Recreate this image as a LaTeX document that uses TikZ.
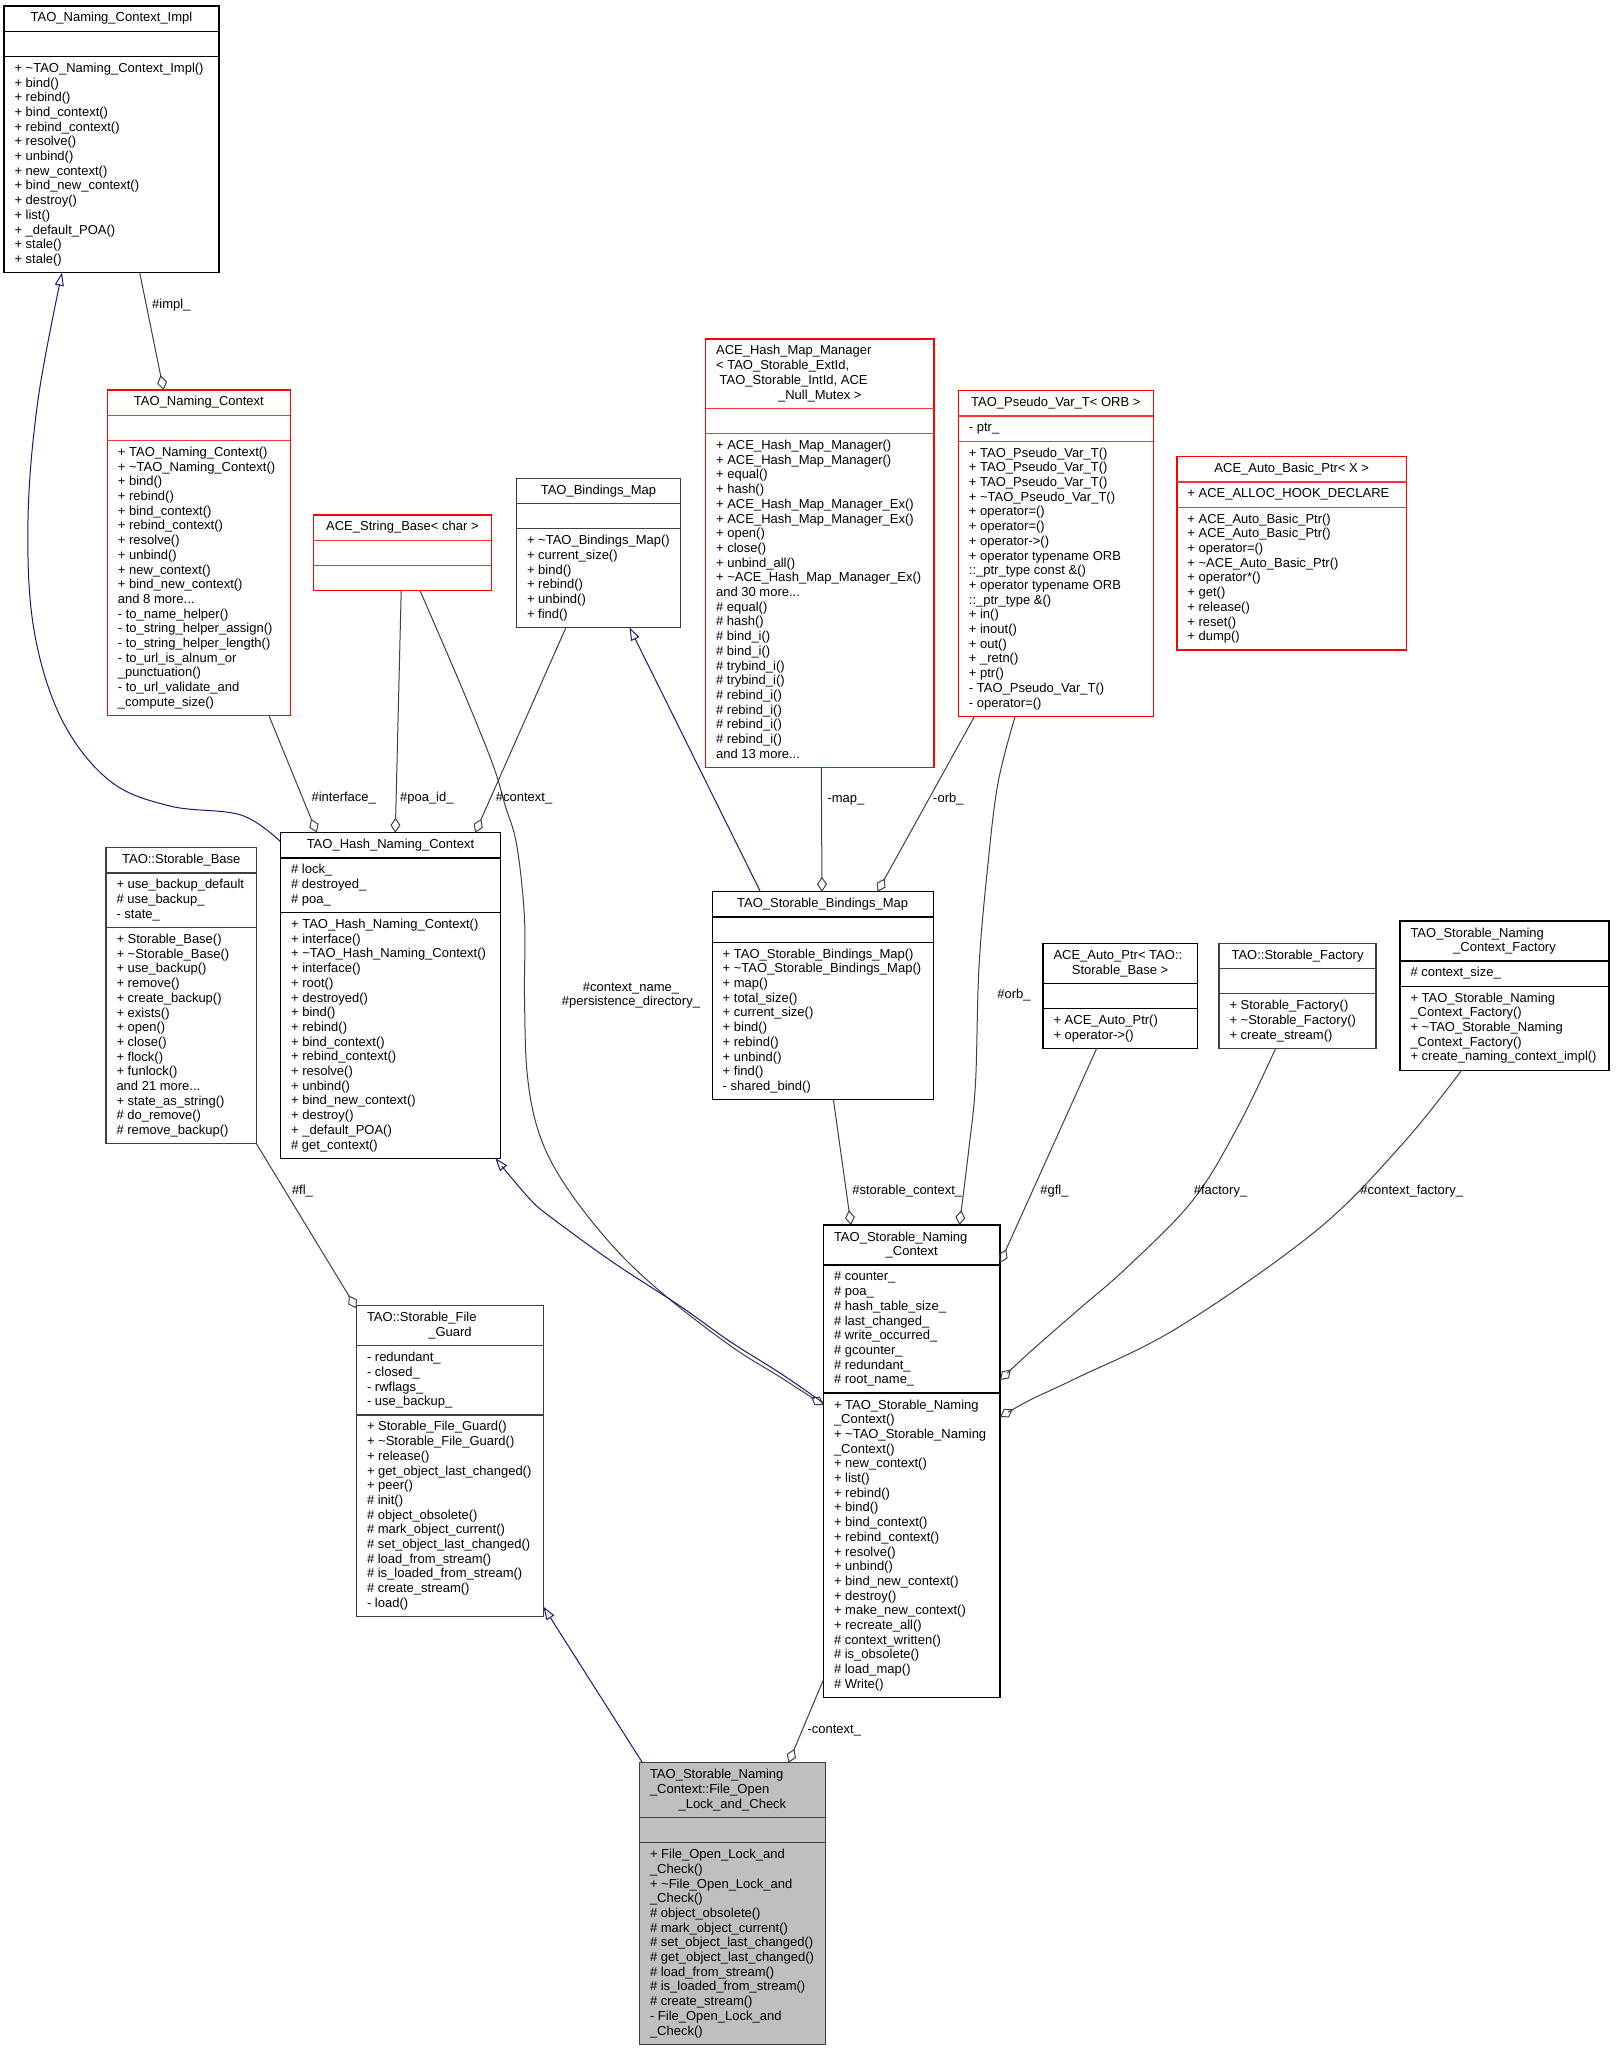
\documentclass[tikz,border=0pt]{standalone}
\usepackage{fontspec}
\setmainfont{Liberation Sans}
\usetikzlibrary{arrows.meta,calc}
\definecolor{edgegray}{HTML}{404040}
\definecolor{inhblue}{HTML}{191970}
\definecolor{focusfill}{HTML}{BFBFBF}
\definecolor{boxred}{HTML}{FF0000}

\newcommand\umlbox[8]{%
  \pgfmathsetmacro\umlhA{#5*14.7+10.5}%
  \pgfmathsetmacro\umlhB{#6*14.7+10.5}%
  \pgfmathsetmacro\umlhC{#7*14.7+10.5}%
  \pgfmathsetmacro\umlhT{\umlhA+\umlhB+\umlhC}%
  \pgfmathsetmacro\umlhAB{\umlhA+\umlhB}%
  \node[#8, minimum width=#4pt, minimum height=\umlhT pt, anchor=north west] (#1) at (#2,#3) {};
  \draw[#8sep] ($(#1.north west)+(0,\umlhA)$) -- ($(#1.north east)+(0,\umlhA)$);
  \draw[#8sep] ($(#1.north west)+(0,\umlhAB)$) -- ($(#1.north east)+(0,\umlhAB)$);
}
\newcommand\umltl[4]{\node[txt, anchor=north west] (#1) at ($(#2.north west)+(10.5,#3+5.7)$) {\strut #4};}
\newcommand\umltc[4]{\node[txt, anchor=north] (#1) at ($(#2.north)+(0,#3+5.7)$) {\strut #4};}

\begin{document}
\begin{tikzpicture}[x=1pt,y=-1pt,
  txt/.style={font=\fontsize{13}{14.7}\selectfont, align=left, inner sep=0, outer sep=0, text=black},
  blkbox/.style={draw=black, fill=white, line width=1.2pt, inner sep=0, outer sep=0},
  blkboxsep/.style={draw=black, line width=1.2pt},
  grybox/.style={draw=edgegray, fill=white, line width=1.2pt, inner sep=0, outer sep=0},
  gryboxsep/.style={draw=edgegray, line width=1.2pt},
  redbox/.style={draw=boxred, fill=white, line width=1.2pt, inner sep=0, outer sep=0},
  redboxsep/.style={draw=boxred!80, line width=1.2pt},
  focbox/.style={draw=edgegray, fill=focusfill, line width=1.2pt, inner sep=0, outer sep=0},
  focboxsep/.style={draw=edgegray, line width=1.2pt},
  agg/.style={draw=edgegray, line width=1pt, -{Diamond[open, length=15pt, width=10pt, line width=1pt]}},
  inh/.style={draw=inhblue, line width=1pt, -{Triangle[open, length=13pt, width=9pt, line width=1pt]}},
  lbl/.style={font=\fontsize{13}{14.7}\selectfont, inner sep=0, outer sep=0, anchor=base west},
  lblc/.style={font=\fontsize{13}{14.7}\selectfont, inner sep=0, outer sep=0, anchor=north, align=center}]

\fill[white] (0,0) rectangle (1616,2051);
\useasboundingbox (0,0) rectangle (1616,2051);

% ---------------- boxes ----------------
\umlbox{impl}{4}{6}{215}{1}{1}{14}{blkbox}
\umltc{impl-t}{impl}{0}{TAO\_Naming\_Context\_Impl}
\umltl{impl-m}{impl}{50.4}{+ \textasciitilde TAO\_Naming\_Context\_Impl()\\+ bind()\\+ rebind()\\+ bind\_context()\\+ rebind\_context()\\+ resolve()\\+ unbind()\\+ new\_context()\\+ bind\_new\_context()\\+ destroy()\\+ list()\\+ \_default\_POA()\\+ stale()\\+ stale()}

\umlbox{nctx}{107.4}{390}{183}{1}{1}{18}{redbox}
\umltc{nctx-t}{nctx}{0}{TAO\_Naming\_Context}
\umltl{nctx-m}{nctx}{50.4}{+ TAO\_Naming\_Context()\\+ \textasciitilde TAO\_Naming\_Context()\\+ bind()\\+ rebind()\\+ bind\_context()\\+ rebind\_context()\\+ resolve()\\+ unbind()\\+ new\_context()\\+ bind\_new\_context()\\and 8 more...\\- to\_name\_helper()\\- to\_string\_helper\_assign()\\- to\_string\_helper\_length()\\- to\_url\_is\_alnum\_or\\\_punctuation()\\- to\_url\_validate\_and\\\_compute\_size()}

\umlbox{strbase}{313.4}{515}{178}{1}{1}{1}{redbox}
\umltc{strbase-t}{strbase}{0}{ACE\_String\_Base< char >}

\umlbox{bmap}{516.5}{478.3}{164}{1}{1}{6}{grybox}
\umltc{bmap-t}{bmap}{0}{TAO\_Bindings\_Map}
\umltl{bmap-m}{bmap}{50.4}{+ \textasciitilde TAO\_Bindings\_Map()\\+ current\_size()\\+ bind()\\+ rebind()\\+ unbind()\\+ find()}

\umlbox{hmm}{705.6}{339}{228.3}{4}{1}{22}{redbox}
\umltl{hmm-t1}{hmm}{0}{ACE\_Hash\_Map\_Manager\\< TAO\_Storable\_ExtId,\\\hspace*{3.6pt}TAO\_Storable\_IntId, ACE}
\umltc{hmm-t2}{hmm}{44.1}{\_Null\_Mutex >}
\umltl{hmm-m}{hmm}{94.5}{+ ACE\_Hash\_Map\_Manager()\\+ ACE\_Hash\_Map\_Manager()\\+ equal()\\+ hash()\\+ ACE\_Hash\_Map\_Manager\_Ex()\\+ ACE\_Hash\_Map\_Manager\_Ex()\\+ open()\\+ close()\\+ unbind\_all()\\+ \textasciitilde ACE\_Hash\_Map\_Manager\_Ex()\\and 30 more...\\\# equal()\\\# hash()\\\# bind\_i()\\\# bind\_i()\\\# trybind\_i()\\\# trybind\_i()\\\# rebind\_i()\\\# rebind\_i()\\\# rebind\_i()\\\# rebind\_i()\\and 13 more...}

\umlbox{pvar}{958.4}{390.7}{194.7}{1}{1}{18}{redbox}
\umltc{pvar-t}{pvar}{0}{TAO\_Pseudo\_Var\_T< ORB >}
\umltl{pvar-a}{pvar}{25.2}{- ptr\_}
\umltl{pvar-m}{pvar}{50.4}{+ TAO\_Pseudo\_Var\_T()\\+ TAO\_Pseudo\_Var\_T()\\+ TAO\_Pseudo\_Var\_T()\\+ \textasciitilde TAO\_Pseudo\_Var\_T()\\+ operator=()\\+ operator=()\\+ operator->()\\+ operator typename ORB\\::\_ptr\_type const \&()\\+ operator typename ORB\\::\_ptr\_type \&()\\+ in()\\+ inout()\\+ out()\\+ \_retn()\\+ ptr()\\- TAO\_Pseudo\_Var\_T()\\- operator=()}

\umlbox{abp}{1176.9}{456.7}{229.7}{1}{1}{9}{redbox}
\umltc{abp-t}{abp}{0}{ACE\_Auto\_Basic\_Ptr< X >}
\umltl{abp-a}{abp}{25.2}{+ ACE\_ALLOC\_HOOK\_DECLARE}
\umltl{abp-m}{abp}{50.4}{+ ACE\_Auto\_Basic\_Ptr()\\+ ACE\_Auto\_Basic\_Ptr()\\+ operator=()\\+ \textasciitilde ACE\_Auto\_Basic\_Ptr()\\+ operator*()\\+ get()\\+ release()\\+ reset()\\+ dump()}

\umlbox{hash}{280.6}{832.7}{219.7}{1}{3}{16}{blkbox}
\umltc{hash-t}{hash}{0}{TAO\_Hash\_Naming\_Context}
\umltl{hash-a}{hash}{25.2}{\# lock\_\\\# destroyed\_\\\# poa\_}
\umltl{hash-m}{hash}{79.8}{+ TAO\_Hash\_Naming\_Context()\\+ interface()\\+ \textasciitilde TAO\_Hash\_Naming\_Context()\\+ interface()\\+ root()\\+ destroyed()\\+ bind()\\+ rebind()\\+ bind\_context()\\+ rebind\_context()\\+ resolve()\\+ unbind()\\+ bind\_new\_context()\\+ destroy()\\+ \_default\_POA()\\\# get\_context()}

\umlbox{sbase}{106}{847.7}{150.5}{1}{3}{14}{grybox}
\umltc{sbase-t}{sbase}{0}{TAO::Storable\_Base}
\umltl{sbase-a}{sbase}{25.2}{+ use\_backup\_default\\\# use\_backup\_\\- state\_}
\umltl{sbase-m}{sbase}{79.8}{+ Storable\_Base()\\+ \textasciitilde Storable\_Base()\\+ use\_backup()\\+ remove()\\+ create\_backup()\\+ exists()\\+ open()\\+ close()\\+ flock()\\+ funlock()\\and 21 more...\\+ state\_as\_string()\\\# do\_remove()\\\# remove\_backup()}

\umlbox{sbm}{712.2}{891.7}{221}{1}{1}{10}{blkbox}
\umltc{sbm-t}{sbm}{0}{TAO\_Storable\_Bindings\_Map}
\umltl{sbm-m}{sbm}{50.4}{+ TAO\_Storable\_Bindings\_Map()\\+ \textasciitilde TAO\_Storable\_Bindings\_Map()\\+ map()\\+ total\_size()\\+ current\_size()\\+ bind()\\+ rebind()\\+ unbind()\\+ find()\\- shared\_bind()}

\umlbox{aptr}{1043}{943.3}{154.2}{2}{1}{2}{blkbox}
\umltl{aptr-t1}{aptr}{0}{ACE\_Auto\_Ptr< TAO::}
\umltc{aptr-t2}{aptr}{14.7}{Storable\_Base >}
\umltl{aptr-m}{aptr}{65.1}{+ ACE\_Auto\_Ptr()\\+ operator->()}

\umlbox{sfac}{1219}{943.3}{157}{1}{1}{3}{grybox}
\umltc{sfac-t}{sfac}{0}{TAO::Storable\_Factory}
\umltl{sfac-m}{sfac}{50.4}{+ Storable\_Factory()\\+ \textasciitilde Storable\_Factory()\\+ create\_stream()}

\umlbox{ncf}{1400}{921}{209}{2}{1}{5}{blkbox}
\umltl{ncf-t1}{ncf}{0}{TAO\_Storable\_Naming}
\umltc{ncf-t2}{ncf}{14.7}{\_Context\_Factory}
\umltl{ncf-a}{ncf}{39.9}{\# context\_size\_}
\umltl{ncf-m}{ncf}{65.1}{+ TAO\_Storable\_Naming\\\_Context\_Factory()\\+ \textasciitilde TAO\_Storable\_Naming\\\_Context\_Factory()\\+ create\_naming\_context\_impl()}

\umlbox{snc}{823.5}{1225}{176.5}{2}{8}{20}{blkbox}
\umltl{snc-t1}{snc}{0}{TAO\_Storable\_Naming}
\umltc{snc-t2}{snc}{14.7}{\_Context}
\umltl{snc-a}{snc}{39.9}{\# counter\_\\\# poa\_\\\# hash\_table\_size\_\\\# last\_changed\_\\\# write\_occurred\_\\\# gcounter\_\\\# redundant\_\\\# root\_name\_}
\umltl{snc-m}{snc}{168}{+ TAO\_Storable\_Naming\\\_Context()\\+ \textasciitilde TAO\_Storable\_Naming\\\_Context()\\+ new\_context()\\+ list()\\+ rebind()\\+ bind()\\+ bind\_context()\\+ rebind\_context()\\+ resolve()\\+ unbind()\\+ bind\_new\_context()\\+ destroy()\\+ make\_new\_context()\\+ recreate\_all()\\\# context\_written()\\\# is\_obsolete()\\\# load\_map()\\\# Write()}

\umlbox{fguard}{356.5}{1305.7}{187}{2}{4}{13}{grybox}
\umltl{fguard-t1}{fguard}{0}{TAO::Storable\_File}
\umltc{fguard-t2}{fguard}{14.7}{\_Guard}
\umltl{fguard-a}{fguard}{39.9}{- redundant\_\\- closed\_\\- rwflags\_\\- use\_backup\_}
\umltl{fguard-m}{fguard}{109.2}{+ Storable\_File\_Guard()\\+ \textasciitilde Storable\_File\_Guard()\\+ release()\\+ get\_object\_last\_changed()\\+ peer()\\\# init()\\\# object\_obsolete()\\\# mark\_object\_current()\\\# set\_object\_last\_changed()\\\# load\_from\_stream()\\\# is\_loaded\_from\_stream()\\\# create\_stream()\\- load()}

\umlbox{fopen}{639.5}{1762.8}{185.8}{3}{1}{13}{focbox}
\umltl{fopen-t1}{fopen}{0}{TAO\_Storable\_Naming\\\_Context::File\_Open}
\umltc{fopen-t2}{fopen}{29.4}{\_Lock\_and\_Check}
\umltl{fopen-m}{fopen}{79.8}{+ File\_Open\_Lock\_and\\\_Check()\\+ \textasciitilde File\_Open\_Lock\_and\\\_Check()\\\# object\_obsolete()\\\# mark\_object\_current()\\\# set\_object\_last\_changed()\\\# get\_object\_last\_changed()\\\# load\_from\_stream()\\\# is\_loaded\_from\_stream()\\\# create\_stream()\\- File\_Open\_Lock\_and\\\_Check()}

% ---------------- connector end points ----------------
\coordinate (e1s) at ($(hash.north west)+(0,9)$);
\coordinate (e1t) at ($(impl.south west)+(58,0)$);
\coordinate (e2s) at ($(impl.south west)+(135.7,0)$);
\coordinate (e2t) at ($(nctx.north west)+(56.2,0)$);
\coordinate (e3s) at ($(nctx.south west)+(161.5,0)$);
\coordinate (e3t) at ($(hash.north west)+(36.2,0)$);
\coordinate (e4s) at ($(strbase.south west)+(87.8,0)$);
\coordinate (e4t) at ($(hash.north west)+(114.7,0)$);
\coordinate (e5s) at ($(bmap.south west)+(49.5,0)$);
\coordinate (e5t) at ($(hash.north west)+(194.6,0)$);
\coordinate (e6s) at ($(strbase.south west)+(106.6,0)$);
\coordinate (e6t) at ($(snc.north west)+(0,180)$);
\coordinate (e7s) at ($(sbm.north west)+(48.2,0)$);
\coordinate (e7t) at ($(bmap.south west)+(113,0)$);
\coordinate (e8s) at ($(hmm.south west)+(115.7,0)$);
\coordinate (e8t) at ($(sbm.north west)+(109.8,0)$);
\coordinate (e9s) at ($(pvar.south west)+(16.2,0)$);
\coordinate (e9t) at ($(sbm.north west)+(165.3,0)$);
\coordinate (e10s) at ($(pvar.south west)+(56.8,0)$);
\coordinate (e10t) at ($(snc.north west)+(135.9,0)$);
\coordinate (e11s) at ($(sbm.south west)+(121.2,0)$);
\coordinate (e11t) at ($(snc.north west)+(27.5,0)$);
\coordinate (e12s) at ($(aptr.south west)+(53.7,0)$);
\coordinate (e12t) at ($(snc.north east)+(0,38)$);
\coordinate (e13s) at ($(sfac.south west)+(56.7,0)$);
\coordinate (e13t) at ($(snc.north east)+(0,155)$);
\coordinate (e14s) at ($(ncf.south west)+(61.7,0)$);
\coordinate (e14t) at ($(snc.north east)+(0,192)$);
\coordinate (e15s) at ($(snc.north west)+(0,178)$);
\coordinate (e15t) at ($(hash.south west)+(214.8,0)$);
\coordinate (e16s) at (sbase.south east);
\coordinate (e16t) at ($(fguard.north west)+(0,2.6)$);
\coordinate (e17s) at ($(fopen.north west)+(3,0)$);
\coordinate (e17t) at ($(fguard.south east)+(0,-9.7)$);
\coordinate (e18s) at ($(snc.south west)+(0,-18)$);
\coordinate (e18t) at ($(fopen.north west)+(149,0)$);

% ---------------- connectors ----------------
\draw[inh] plot[smooth, tension=0.6] coordinates {(e1s) (241,815) (170,806) (110,781) (62,720) (34,630) (28,520) (38,400) (e1t)};
\draw[agg] (e2s) -- (e2t);
\draw[agg] (e3s) -- (e3t);
\draw[agg] (e4s) -- (e4t);
\draw[agg] (e5s) -- (e5t);
\draw[agg] plot[smooth, tension=0.6] coordinates {(e6s) (461.4,686.7) (492.4,763.3) (505,805) (516.7,845) (524.5,918.6) (524.5,997.6) (527.5,1076.7) (540,1136) (566.7,1187.4) (613.3,1246.6) (663.3,1294) (730,1345.5) (780,1377) (e6t)};
\draw[inh] (e7s) -- (e7t);
\draw[agg] (e8s) -- (e8t);
\draw[agg] (e9s) -- (e9t);
\draw[agg] plot[smooth, tension=0.6] coordinates {(e10s) (998,783) (987.7,866.7) (979,966.7) (975.5,1083) (968.7,1150) (e10t)};
\draw[agg] (e11s) -- (e11t);
\draw[agg] (e12s) -- (e12t);
\draw[agg] plot[smooth, tension=0.6] coordinates {(e13s) (1237.8,1126.7) (1193,1200) (1127.7,1266.7) (1076,1311.7) (1030,1352) (e13t)};
\draw[agg] plot[smooth, tension=0.6] coordinates {(e14s) (1403,1143.3) (1317,1230) (1179.3,1326.7) (1076,1378.3) (1030,1400) (e14t)};
\draw[inh] plot[smooth, tension=0.6] coordinates {(e15s) (780,1373) (730,1341.5) (680,1306) (613.3,1262.5) (553.3,1219) (530,1199.2) (e15t)};
\draw[agg] (e16s) -- (e16t);
\draw[inh] (e17s) -- (e17t);
\draw[agg] (e18s) -- (e18t);

% ---------------- labels ----------------
\node[lbl] (l2) at (152.2,308.5) {\#impl\_};
\node[lbl] (l3) at (311.6,801.8) {\#interface\_};
\node[lbl] (l4) at (400.1,801.8) {\#poa\_id\_};
\node[lbl] (l5) at (495.9,801.8) {\#context\_};
\node[lblc] (l6) at (631,980.8) {\strut\#context\_name\_\\\#persistence\_directory\_};
\node[lbl] (l8) at (827.5,802.5) {-map\_};
\node[lbl] (l9) at (933.2,802.5) {-orb\_};
\node[lbl] (l10) at (997.3,998.5) {\#orb\_};
\node[lbl] (l11) at (852.3,1194.2) {\#storable\_context\_};
\node[lbl] (l12) at (1040.3,1194.2) {\#gfl\_};
\node[lbl] (l13) at (1193.8,1194.2) {\#factory\_};
\node[lbl] (l14) at (1360.4,1194.2) {\#context\_factory\_};
\node[lbl] (l16) at (292,1194.2) {\#fl\_};
\node[lbl] (l18) at (807.5,1733.5) {-context\_};
\end{tikzpicture}
\end{document}
